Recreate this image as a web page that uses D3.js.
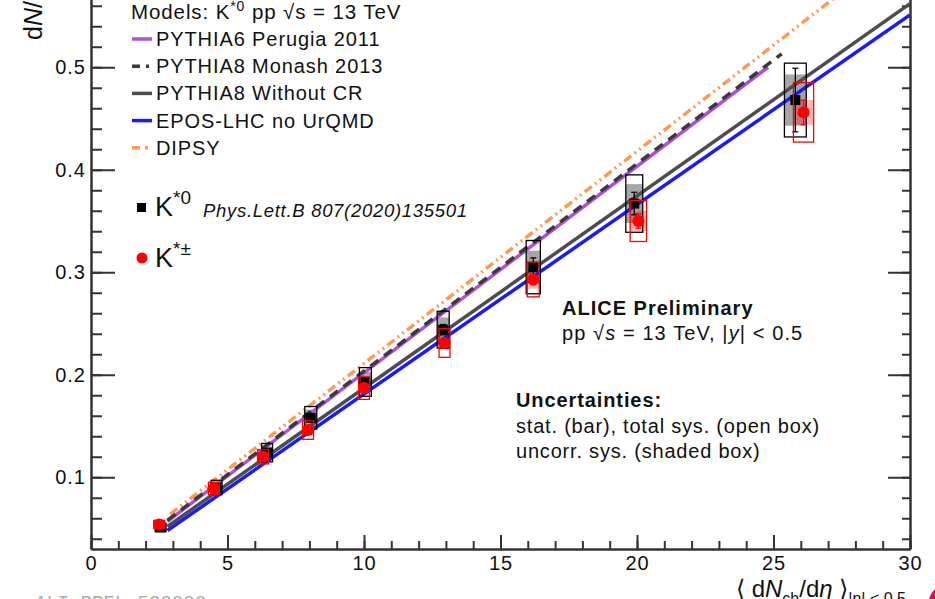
<!DOCTYPE html>
<html>
<head>
<meta charset="utf-8">
<script src="https://cdn.jsdelivr.net/npm/d3@7"></script>
<style>
  body { margin: 0; background: #fff; }
  svg { font-family: "Liberation Sans", Arial, sans-serif; }
</style>
</head>
<body>
<div id="chart"></div>
<script>
var w = 935;
var h = 599;

// K*0 (black squares)
var kstar0X = [2.55, 4.6, 6.45, 8.05, 10.05, 12.9, 16.2, 19.9, 25.8];
var kstar0Y = [0.051, 0.090, 0.124, 0.158, 0.193, 0.244, 0.305, 0.367, 0.468];
var kstar0Stat = [0.002, 0.003, 0.003, 0.004, 0.004, 0.005, 0.009, 0.011, 0.031];
var kstar0Sys = [0.004, 0.007, 0.009, 0.011, 0.014, 0.018, 0.026, 0.028, 0.036];
var kstar0Unc = [0.003, 0.005, 0.006, 0.008, 0.010, 0.012, 0.016, 0.019, 0.025];
var kstar0Dx = [0.2, 0.2, 0.2, 0.22, 0.22, 0.22, 0.26, 0.31, 0.4];

// K*+- (red circles)
var kstarChX = [2.5, 4.5, 6.3, 7.95, 10.0, 12.95, 16.2, 20.05, 26.1];
var kstarChY = [0.054, 0.089, 0.120, 0.146, 0.187, 0.231, 0.293, 0.350, 0.456];
var kstarChStat = [0.002, 0.002, 0.002, 0.003, 0.003, 0.004, 0.005, 0.007, 0.012];
var kstarChSys = [0.004, 0.006, 0.007, 0.009, 0.011, 0.014, 0.017, 0.020, 0.029];
var kstarChUnc = [0.002, 0.003, 0.004, 0.005, 0.006, 0.007, 0.009, 0.010, 0.012];
var kstarChDx = [0.2, 0.2, 0.2, 0.2, 0.2, 0.2, 0.22, 0.3, 0.37];

// model curves
var perugiaX = [2.8, 24.8];
var perugiaY = [0.057, 0.500];
var monashX = [2.8, 25.3];
var monashY = [0.058, 0.513];
var noCRX = [2.8, 30];
var noCRY = [0.052, 0.562];
var eposX = [2.8, 30];
var eposY = [0.048, 0.551];
var dipsyX = [2.9, 30];
var dipsyY = [0.064, 0.625];

var modelNames = ["PYTHIA6 Perugia 2011", "PYTHIA8 Monash 2013", "PYTHIA8 Without CR", "EPOS-LHC no UrQMD", "DIPSY"];
var modelColors = ["#b04ee0", "#3a3a3a", "#4d4d4d", "#1a1aff", "#ff9a55"];
var modelDash = [null, "10,7", null, null, "9,4,2,4,2,4"];

var xMajor = [0, 5, 10, 15, 20, 25, 30];
var yMajor = [0.1, 0.2, 0.3, 0.4, 0.5];

var svg = d3.select("#chart").append("svg")
    .attr("width", w)
    .attr("height", h);

var x = d3.scaleLinear().domain([0, 30]).range([91, 910]);
var y = d3.scaleLinear().domain([0.03, 0.58]).range([549, 549 - 0.55 * 1025]);

svg.append("clipPath").attr("id", "clip")
    .append("rect")
    .attr("x", x(0)).attr("y", 0)
    .attr("width", x(30) - x(0)).attr("height", y(0.03));

// axes
function styleAxis(g) {
    g.selectAll("path, line").attr("stroke", "#333").attr("stroke-width", 2);
    g.selectAll("text").attr("fill", "#111").attr("font-size", 20)
        .attr("letter-spacing", 1)
        .attr("font-family", "Liberation Sans, Arial, sans-serif");
}

svg.append("g").attr("transform", "translate(0," + y(0.03) + ")")
    .call(d3.axisBottom(x).tickValues(d3.range(0, 31, 1)).tickSize(-8).tickSizeOuter(0).tickFormat(""))
    .call(styleAxis);
svg.append("g").attr("transform", "translate(0," + y(0.03) + ")")
    .call(d3.axisBottom(x).tickValues(xMajor).tickSize(-14).tickSizeOuter(0).tickPadding(7).tickFormat(d3.format("d")))
    .call(styleAxis);

svg.append("g").attr("transform", "translate(" + x(0) + ",0)")
    .call(d3.axisLeft(y).tickValues(d3.range(0.04, 0.575, 0.02)).tickSize(-11).tickSizeOuter(0).tickFormat(""))
    .call(styleAxis);
svg.append("g").attr("transform", "translate(" + x(0) + ",0)")
    .call(d3.axisLeft(y).tickValues(yMajor).tickSize(-24).tickSizeOuter(0).tickPadding(5).tickFormat(d3.format(".1f")))
    .call(styleAxis);

svg.append("g").attr("transform", "translate(" + x(30) + ",0)")
    .call(d3.axisRight(y).tickValues(d3.range(0.04, 0.575, 0.02)).tickSize(-8).tickSizeOuter(0).tickFormat(""))
    .call(styleAxis);
svg.append("g").attr("transform", "translate(" + x(30) + ",0)")
    .call(d3.axisRight(y).tickValues(yMajor).tickSize(-22).tickSizeOuter(0).tickFormat(""))
    .call(styleAxis);

var plot = svg.append("g").attr("clip-path", "url(#clip)");

function series(xs, ys, stat, sys, unc, dx) {
    return xs.map(function(d, i) {
        return { x: d, y: ys[i], stat: stat[i], sys: sys[i], unc: unc[i], dx: dx[i] };
    });
}
var k0 = series(kstar0X, kstar0Y, kstar0Stat, kstar0Sys, kstar0Unc, kstar0Dx);
var kc = series(kstarChX, kstarChY, kstarChStat, kstarChSys, kstarChUnc, kstarChDx);

// shaded (uncorrelated sys) boxes
function shaded(data, fill) {
    plot.append("g").selectAll("rect").data(data).enter().append("rect")
        .attr("x", function(d) { return x(d.x - d.dx); })
        .attr("width", function(d) { return x(d.x + d.dx) - x(d.x - d.dx); })
        .attr("y", function(d) { return y(d.y + d.unc); })
        .attr("height", function(d) { return y(d.y - d.unc) - y(d.y + d.unc); })
        .attr("fill", fill);
}
shaded(k0, "rgba(0,0,0,0.35)");
shaded(kc, "rgba(255,0,0,0.3)");

// model lines
var models = [
    [perugiaX, perugiaY], [monashX, monashY], [noCRX, noCRY], [eposX, eposY], [dipsyX, dipsyY]
];
var line = d3.line().x(function(d) { return x(d[0]); }).y(function(d) { return y(d[1]); });
var drawOrder = [4, 0, 1, 2, 3];
drawOrder.forEach(function(m) {
    var pts = models[m][0].map(function(v, i) { return [v, models[m][1][i]]; });
    plot.append("path")
        .attr("d", line(pts))
        .attr("fill", "none")
        .attr("stroke", modelColors[m])
        .attr("stroke-width", 3.5)
        .attr("stroke-dasharray", modelDash[m]);
});

// open boxes, stat bars, markers
function points(data, color, isSquare) {
    var g = plot.append("g");
    g.selectAll("rect.sys").data(data).enter().append("rect")
        .attr("class", "sys")
        .attr("x", function(d) { return x(d.x - d.dx); })
        .attr("width", function(d) { return x(d.x + d.dx) - x(d.x - d.dx); })
        .attr("y", function(d) { return y(d.y + d.sys); })
        .attr("height", function(d) { return y(d.y - d.sys) - y(d.y + d.sys); })
        .attr("fill", "none")
        .attr("stroke", color)
        .attr("stroke-width", 1.3);
    g.selectAll("line.stat").data(data).enter().append("line")
        .attr("x1", function(d) { return x(d.x); })
        .attr("x2", function(d) { return x(d.x); })
        .attr("y1", function(d) { return y(d.y + d.stat); })
        .attr("y2", function(d) { return y(d.y - d.stat); })
        .attr("stroke", color).attr("stroke-width", 1.3);
    [1, -1].forEach(function(s) {
        g.selectAll("line.cap" + s).data(data).enter().append("line")
            .attr("x1", function(d) { return x(d.x) - 3; })
            .attr("x2", function(d) { return x(d.x) + 3; })
            .attr("y1", function(d) { return y(d.y + s * d.stat); })
            .attr("y2", function(d) { return y(d.y + s * d.stat); })
            .attr("stroke", color).attr("stroke-width", 1.3);
    });
    if (isSquare) {
        g.selectAll("rect.m").data(data).enter().append("rect")
            .attr("x", function(d) { return x(d.x) - 5; })
            .attr("y", function(d) { return y(d.y) - 5; })
            .attr("width", 10).attr("height", 10)
            .attr("fill", color);
    } else {
        g.selectAll("circle").data(data).enter().append("circle")
            .attr("cx", function(d) { return x(d.x); })
            .attr("cy", function(d) { return y(d.y); })
            .attr("r", 6)
            .attr("fill", color);
    }
}
points(k0, "#000", true);
points(kc, "#ff0000", false);

// legend of models
var fs = 20;
var ls = 0.9;
var t = svg.append("text").attr("x", 131).attr("y", 19).attr("font-size", 20.5)
    .attr("letter-spacing", ls).attr("fill", "#111");
t.append("tspan").text("Models: K");
t.append("tspan").attr("font-size", 14).attr("dy", -8).text("*0");
t.append("tspan").attr("dy", 8).text(" pp \u221As = 13 TeV");

modelNames.forEach(function(name, i) {
    var yy = 46 + i * 27.2;
    svg.append("line")
        .attr("x1", 132).attr("x2", 152)
        .attr("y1", yy - 7).attr("y2", yy - 7)
        .attr("stroke", modelColors[i])
        .attr("stroke-width", 3.5)
        .attr("stroke-dasharray", i === 1 ? "8,6,3,6" : (i === 4 ? "8,5,3,5" : null));
    svg.append("text").attr("x", 156).attr("y", yy).attr("font-size", fs)
        .attr("letter-spacing", ls).attr("fill", "#111").text(name);
});

// legend of data
svg.append("rect").attr("x", 137).attr("y", 203).attr("width", 9).attr("height", 9).attr("fill", "#000");
var t2 = svg.append("text").attr("x", 155).attr("y", 216).attr("font-size", 27).attr("fill", "#111");
t2.append("tspan").text("K");
t2.append("tspan").attr("font-size", 19).attr("dy", -12).text("*0");
svg.append("text").attr("x", 203).attr("y", 217).attr("font-size", 18.5).attr("font-style", "italic")
    .attr("letter-spacing", 0.7).attr("fill", "#111").text("Phys.Lett.B 807(2020)135501");

svg.append("circle").attr("cx", 142).attr("cy", 258).attr("r", 5.5).attr("fill", "#ff0000");
var t3 = svg.append("text").attr("x", 155).attr("y", 267).attr("font-size", 27).attr("fill", "#111");
t3.append("tspan").text("K");
t3.append("tspan").attr("font-size", 19).attr("dy", -12).text("*\u00B1");

// labels
svg.append("text").attr("x", 562).attr("y", 315).attr("font-size", 20).attr("font-weight", "bold")
    .attr("letter-spacing", 1).attr("fill", "#111").text("ALICE Preliminary");
var t4 = svg.append("text").attr("x", 562).attr("y", 340).attr("font-size", 20)
    .attr("letter-spacing", 1.1).attr("fill", "#111");
t4.append("tspan").text("pp \u221A");
t4.append("tspan").attr("font-style", "italic").text("s");
t4.append("tspan").text(" = 13 TeV, |");
t4.append("tspan").attr("font-style", "italic").text("y");
t4.append("tspan").text("| < 0.5");

svg.append("text").attr("x", 516).attr("y", 407).attr("font-size", 20).attr("font-weight", "bold")
    .attr("letter-spacing", 0.9).attr("fill", "#111").text("Uncertainties:");
svg.append("text").attr("x", 516).attr("y", 433).attr("font-size", 20).attr("fill", "#111")
    .attr("letter-spacing", 0.8).text("stat. (bar), total sys. (open box)");
svg.append("text").attr("x", 516).attr("y", 458).attr("font-size", 20).attr("fill", "#111")
    .attr("letter-spacing", 0.8).text("uncorr. sys. (shaded box)");

// axis titles
var xt = svg.append("text").attr("x", 736).attr("y", 597).attr("font-size", 24).attr("fill", "#111");
xt.append("tspan").text("\u27E8 d");
xt.append("tspan").attr("font-style", "italic").text("N");
xt.append("tspan").attr("font-size", 16).attr("dy", 7).text("ch");
xt.append("tspan").attr("dy", -7).text("/d");
xt.append("tspan").attr("font-style", "italic").text("\u03B7");
xt.append("tspan").text(" \u27E9");
xt.append("tspan").attr("font-size", 16).attr("dy", 7).text("|\u03B7| < 0.5");

var yt = svg.append("text").attr("transform", "translate(42,40) rotate(-90)")
    .attr("font-size", 25).attr("fill", "#111");
yt.append("tspan").text("d");
yt.append("tspan").attr("font-style", "italic").text("N");
yt.append("tspan").text("/d");
yt.append("tspan").attr("font-style", "italic").text("y");

// watermark and logo corner
svg.append("text").attr("x", 35).attr("y", 608).attr("font-size", 19)
    .attr("font-family", "Liberation Mono, DejaVu Sans Mono, monospace")
    .attr("fill", "#aaa").text("ALI-PREL-523880");
svg.append("circle").attr("cx", 952).attr("cy", 606).attr("r", 24).attr("fill", "#c2185b");
</script>
</body>
</html>
